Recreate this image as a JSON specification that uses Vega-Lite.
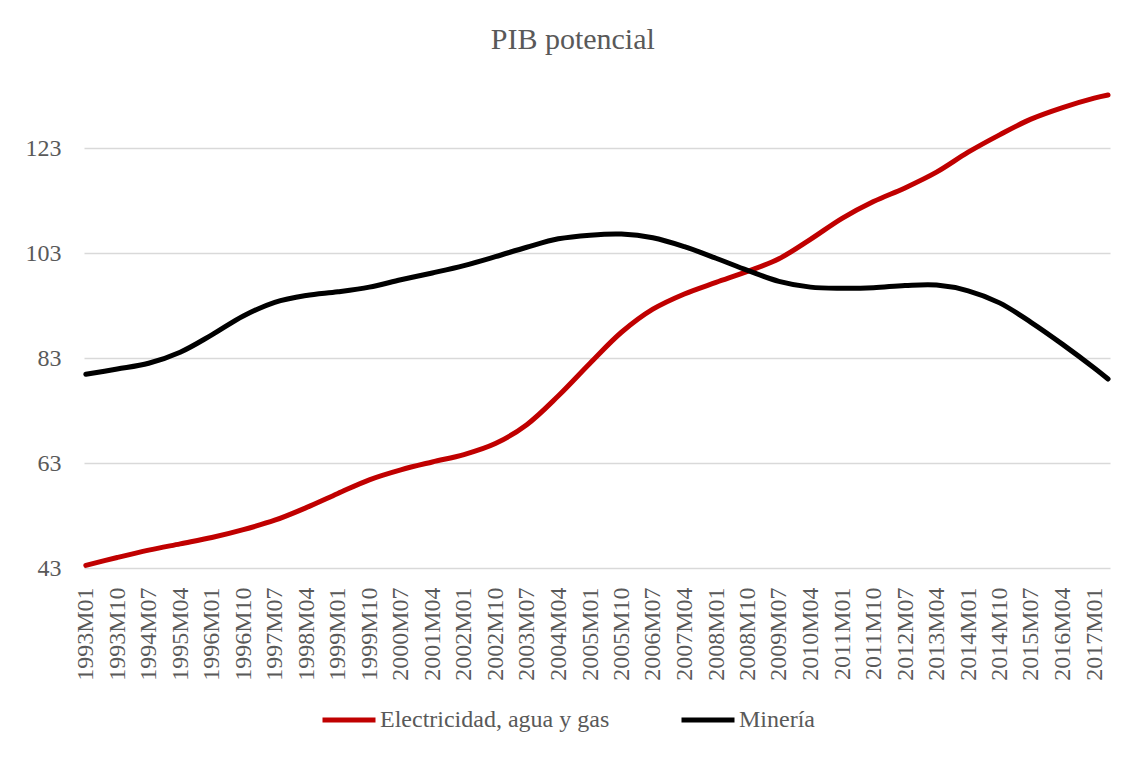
{
  "$schema": "https://vega.github.io/schema/vega-lite/v6.json",
  "width": 1026,
  "height": 483,
  "autosize": {"type": "none"},
  "padding": {"left": 84, "top": 85, "right": 23, "bottom": 189},
  "background": "#ffffff",
  "title": {"text": "PIB potencial", "font": "Liberation Serif", "fontSize": 30, "fontWeight": "normal", "color": "#595959", "anchor": "middle", "frame": "bounds", "baseline": "alphabetic", "offset": 6, "dx": 5},
  "config": {"view": {"stroke": null}},
  "data": {"values": [
    {"fecha": "1993-01-01", "serie": "Electricidad, agua y gas", "valor": 43.5},
    {"fecha": "1993-10-01", "serie": "Electricidad, agua y gas", "valor": 45.0},
    {"fecha": "1994-07-01", "serie": "Electricidad, agua y gas", "valor": 46.4},
    {"fecha": "1995-04-01", "serie": "Electricidad, agua y gas", "valor": 47.6},
    {"fecha": "1996-01-01", "serie": "Electricidad, agua y gas", "valor": 48.8},
    {"fecha": "1996-10-01", "serie": "Electricidad, agua y gas", "valor": 50.3},
    {"fecha": "1997-07-01", "serie": "Electricidad, agua y gas", "valor": 52.1},
    {"fecha": "1998-04-01", "serie": "Electricidad, agua y gas", "valor": 54.5},
    {"fecha": "1999-01-01", "serie": "Electricidad, agua y gas", "valor": 57.2},
    {"fecha": "1999-10-01", "serie": "Electricidad, agua y gas", "valor": 59.8},
    {"fecha": "2000-07-01", "serie": "Electricidad, agua y gas", "valor": 61.7},
    {"fecha": "2001-04-01", "serie": "Electricidad, agua y gas", "valor": 63.2},
    {"fecha": "2002-01-01", "serie": "Electricidad, agua y gas", "valor": 64.6},
    {"fecha": "2002-10-01", "serie": "Electricidad, agua y gas", "valor": 66.7},
    {"fecha": "2003-07-01", "serie": "Electricidad, agua y gas", "valor": 70.3},
    {"fecha": "2004-04-01", "serie": "Electricidad, agua y gas", "valor": 75.8},
    {"fecha": "2005-01-01", "serie": "Electricidad, agua y gas", "valor": 82.0},
    {"fecha": "2005-10-01", "serie": "Electricidad, agua y gas", "valor": 87.9},
    {"fecha": "2006-07-01", "serie": "Electricidad, agua y gas", "valor": 92.3},
    {"fecha": "2007-04-01", "serie": "Electricidad, agua y gas", "valor": 95.2},
    {"fecha": "2008-01-01", "serie": "Electricidad, agua y gas", "valor": 97.4},
    {"fecha": "2008-10-01", "serie": "Electricidad, agua y gas", "valor": 99.5},
    {"fecha": "2009-07-01", "serie": "Electricidad, agua y gas", "valor": 101.9},
    {"fecha": "2010-04-01", "serie": "Electricidad, agua y gas", "valor": 105.6},
    {"fecha": "2011-01-01", "serie": "Electricidad, agua y gas", "valor": 109.6},
    {"fecha": "2011-10-01", "serie": "Electricidad, agua y gas", "valor": 112.8},
    {"fecha": "2012-07-01", "serie": "Electricidad, agua y gas", "valor": 115.4},
    {"fecha": "2013-04-01", "serie": "Electricidad, agua y gas", "valor": 118.4},
    {"fecha": "2014-01-01", "serie": "Electricidad, agua y gas", "valor": 122.2},
    {"fecha": "2014-10-01", "serie": "Electricidad, agua y gas", "valor": 125.5},
    {"fecha": "2015-07-01", "serie": "Electricidad, agua y gas", "valor": 128.5},
    {"fecha": "2016-04-01", "serie": "Electricidad, agua y gas", "valor": 130.7},
    {"fecha": "2017-01-01", "serie": "Electricidad, agua y gas", "valor": 132.5},
    {"fecha": "2017-05-01", "serie": "Electricidad, agua y gas", "valor": 133.1},
    {"fecha": "1993-01-01", "serie": "Minería", "valor": 79.9},
    {"fecha": "1993-10-01", "serie": "Minería", "valor": 80.9},
    {"fecha": "1994-07-01", "serie": "Minería", "valor": 82.0},
    {"fecha": "1995-04-01", "serie": "Minería", "valor": 84.1},
    {"fecha": "1996-01-01", "serie": "Minería", "valor": 87.4},
    {"fecha": "1996-10-01", "serie": "Minería", "valor": 91.0},
    {"fecha": "1997-07-01", "serie": "Minería", "valor": 93.6},
    {"fecha": "1998-04-01", "serie": "Minería", "valor": 94.9},
    {"fecha": "1999-01-01", "serie": "Minería", "valor": 95.6},
    {"fecha": "1999-10-01", "serie": "Minería", "valor": 96.5},
    {"fecha": "2000-07-01", "serie": "Minería", "valor": 97.9},
    {"fecha": "2001-04-01", "serie": "Minería", "valor": 99.2},
    {"fecha": "2002-01-01", "serie": "Minería", "valor": 100.6},
    {"fecha": "2002-10-01", "serie": "Minería", "valor": 102.3},
    {"fecha": "2003-07-01", "serie": "Minería", "valor": 104.1},
    {"fecha": "2004-04-01", "serie": "Minería", "valor": 105.7},
    {"fecha": "2005-01-01", "serie": "Minería", "valor": 106.4},
    {"fecha": "2005-10-01", "serie": "Minería", "valor": 106.6},
    {"fecha": "2006-07-01", "serie": "Minería", "valor": 105.9},
    {"fecha": "2007-04-01", "serie": "Minería", "valor": 104.2},
    {"fecha": "2008-01-01", "serie": "Minería", "valor": 102.0},
    {"fecha": "2008-10-01", "serie": "Minería", "valor": 99.7},
    {"fecha": "2009-07-01", "serie": "Minería", "valor": 97.6},
    {"fecha": "2010-04-01", "serie": "Minería", "valor": 96.5},
    {"fecha": "2011-01-01", "serie": "Minería", "valor": 96.3},
    {"fecha": "2011-10-01", "serie": "Minería", "valor": 96.4},
    {"fecha": "2012-07-01", "serie": "Minería", "valor": 96.8},
    {"fecha": "2013-04-01", "serie": "Minería", "valor": 96.9},
    {"fecha": "2014-01-01", "serie": "Minería", "valor": 95.8},
    {"fecha": "2014-10-01", "serie": "Minería", "valor": 93.5},
    {"fecha": "2015-07-01", "serie": "Minería", "valor": 89.8},
    {"fecha": "2016-04-01", "serie": "Minería", "valor": 85.6},
    {"fecha": "2017-01-01", "serie": "Minería", "valor": 81.1},
    {"fecha": "2017-05-01", "serie": "Minería", "valor": 79.0}
  ]},
  "mark": {"type": "line", "strokeWidth": 5, "strokeCap": "round", "strokeJoin": "round", "interpolate": "catmull-rom"},
  "encoding": {
    "x": {
      "field": "fecha", "type": "temporal",
      "scale": {"type": "utc", "domain": [{"year": 1992, "month": 12, "date": 16, "utc": true}, {"year": 2017, "month": 5, "date": 18, "utc": true}]},
      "axis": {
        "title": null, "grid": false, "domain": false, "ticks": false, "tickSize": 0,
        "labelAngle": -90, "labelPadding": 19, "labelFlush": false, "labelOverlap": false, "labelBound": false,
        "labelFont": "Liberation Serif", "labelFontSize": 24, "labelColor": "#595959",
        "labelExpr": "utcFormat(datum.value, '%Y') + 'M' + utcFormat(datum.value, '%m')",
        "values": [
          {"year": 1993, "month": 1, "date": 1, "utc": true},
          {"year": 1993, "month": 10, "date": 1, "utc": true},
          {"year": 1994, "month": 7, "date": 1, "utc": true},
          {"year": 1995, "month": 4, "date": 1, "utc": true},
          {"year": 1996, "month": 1, "date": 1, "utc": true},
          {"year": 1996, "month": 10, "date": 1, "utc": true},
          {"year": 1997, "month": 7, "date": 1, "utc": true},
          {"year": 1998, "month": 4, "date": 1, "utc": true},
          {"year": 1999, "month": 1, "date": 1, "utc": true},
          {"year": 1999, "month": 10, "date": 1, "utc": true},
          {"year": 2000, "month": 7, "date": 1, "utc": true},
          {"year": 2001, "month": 4, "date": 1, "utc": true},
          {"year": 2002, "month": 1, "date": 1, "utc": true},
          {"year": 2002, "month": 10, "date": 1, "utc": true},
          {"year": 2003, "month": 7, "date": 1, "utc": true},
          {"year": 2004, "month": 4, "date": 1, "utc": true},
          {"year": 2005, "month": 1, "date": 1, "utc": true},
          {"year": 2005, "month": 10, "date": 1, "utc": true},
          {"year": 2006, "month": 7, "date": 1, "utc": true},
          {"year": 2007, "month": 4, "date": 1, "utc": true},
          {"year": 2008, "month": 1, "date": 1, "utc": true},
          {"year": 2008, "month": 10, "date": 1, "utc": true},
          {"year": 2009, "month": 7, "date": 1, "utc": true},
          {"year": 2010, "month": 4, "date": 1, "utc": true},
          {"year": 2011, "month": 1, "date": 1, "utc": true},
          {"year": 2011, "month": 10, "date": 1, "utc": true},
          {"year": 2012, "month": 7, "date": 1, "utc": true},
          {"year": 2013, "month": 4, "date": 1, "utc": true},
          {"year": 2014, "month": 1, "date": 1, "utc": true},
          {"year": 2014, "month": 10, "date": 1, "utc": true},
          {"year": 2015, "month": 7, "date": 1, "utc": true},
          {"year": 2016, "month": 4, "date": 1, "utc": true},
          {"year": 2017, "month": 1, "date": 1, "utc": true}
        ]
      }
    },
    "y": {
      "field": "valor", "type": "quantitative",
      "scale": {"domain": [43, 135], "nice": false, "zero": false},
      "axis": {
        "title": null, "values": [43, 63, 83, 103, 123], "grid": true, "gridColor": "#d9d9d9", "gridWidth": 1.5,
        "domain": false, "ticks": false, "tickSize": 0, "labelPadding": 23,
        "labelFont": "Liberation Serif", "labelFontSize": 24, "labelColor": "#595959"
      }
    },
    "color": {
      "field": "serie", "type": "nominal",
      "scale": {"domain": ["Electricidad, agua y gas", "Minería"], "range": ["#c00000", "#000000"]},
      "legend": {
        "title": null, "orient": "none", "legendX": 236, "legendY": 606, "direction": "horizontal",
        "symbolType": "stroke", "symbolSize": 2809, "symbolStrokeWidth": 5,
        "labelFont": "Liberation Serif", "labelFontSize": 24, "labelColor": "#595959", "labelOffset": 2,
        "columnPadding": 61, "labelLimit": 400
      }
    }
  }
}
